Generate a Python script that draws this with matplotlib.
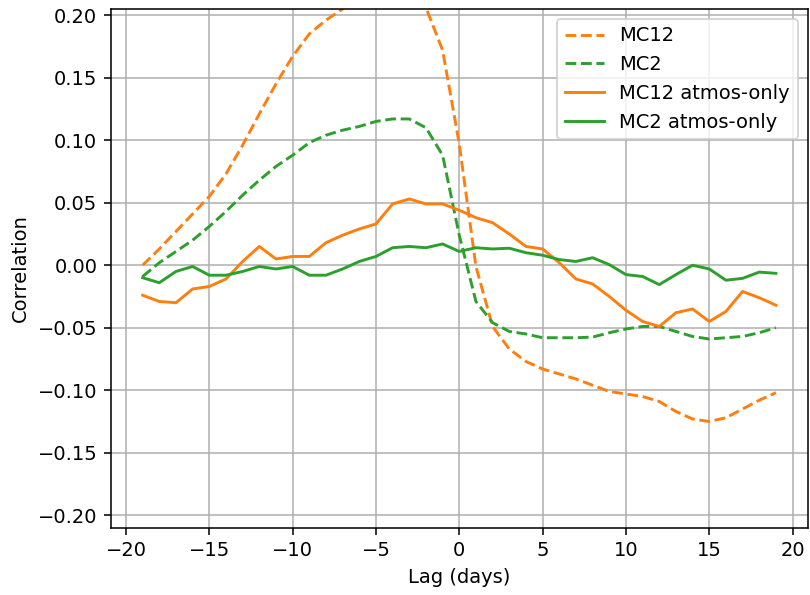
import matplotlib

matplotlib.use("Agg")
import matplotlib.pyplot as plt
import numpy as np

lags = np.arange(-19, 20)

mc12 = [0.000, 0.013, 0.027, 0.041, 0.055, 0.073, 0.096, 0.121, 0.145, 0.167,
        0.185, 0.196, 0.205, 0.215, 0.222, 0.225, 0.220, 0.206, 0.172, 0.097,
        -0.001, -0.049, -0.067, -0.077, -0.083, -0.087, -0.091, -0.096, -0.101, -0.103,
        -0.105, -0.109, -0.117, -0.123, -0.125, -0.122, -0.115, -0.108, -0.102]
mc2 = [-0.009, 0.002, 0.011, 0.020, 0.031, 0.043, 0.056, 0.068, 0.079, 0.088,
       0.098, 0.104, 0.108, 0.111, 0.115, 0.117, 0.117, 0.110, 0.088, 0.024,
       -0.029, -0.046, -0.053, -0.055, -0.058, -0.058, -0.058, -0.0575, -0.054, -0.051,
       -0.049, -0.049, -0.053, -0.057, -0.059, -0.058, -0.057, -0.054, -0.050]
mc12_atmos = [-0.024, -0.029, -0.030, -0.019, -0.017, -0.011, 0.003, 0.015, 0.005, 0.007,
              0.007, 0.018, 0.024, 0.029, 0.033, 0.049, 0.053, 0.049, 0.049, 0.044,
              0.038, 0.034, 0.025, 0.015, 0.013, 0.002, -0.011, -0.015, -0.025, -0.036,
              -0.045, -0.049, -0.038, -0.035, -0.045, -0.037, -0.021, -0.026, -0.032]
mc2_atmos = [-0.010, -0.014, -0.005, -0.001, -0.008, -0.008, -0.005, -0.001, -0.003, -0.001,
             -0.008, -0.008, -0.003, 0.003, 0.007, 0.014, 0.015, 0.014, 0.017, 0.011,
             0.014, 0.013, 0.0136, 0.010, 0.008, 0.0045, 0.003, 0.006, 0.0005, -0.0075,
             -0.009, -0.0155, -0.0075, 0.000, -0.003, -0.012, -0.0105, -0.0055, -0.0065]

dpi = 140
fig, ax = plt.subplots(figsize=(810 / dpi, 595 / dpi), dpi=dpi)
fig.subplots_adjust(left=0.137, right=0.997, top=0.985, bottom=0.113)

ax.plot(lags, mc12, color="C1", linestyle="--", label="MC12")
ax.plot(lags, mc2, color="C2", linestyle="--", label="MC2")
ax.plot(lags, mc12_atmos, color="C1", label="MC12 atmos-only")
ax.plot(lags, mc2_atmos, color="C2", label="MC2 atmos-only")

ax.set_ylim(-0.21, 0.205)
ax.set_yticks(np.arange(-0.20, 0.201, 0.05))
ax.set_xlabel("Lag (days)")
ax.set_ylabel("Correlation")
ax.grid(True)
ax.legend(loc="upper right")

fig.savefig("out.png", dpi=dpi)
